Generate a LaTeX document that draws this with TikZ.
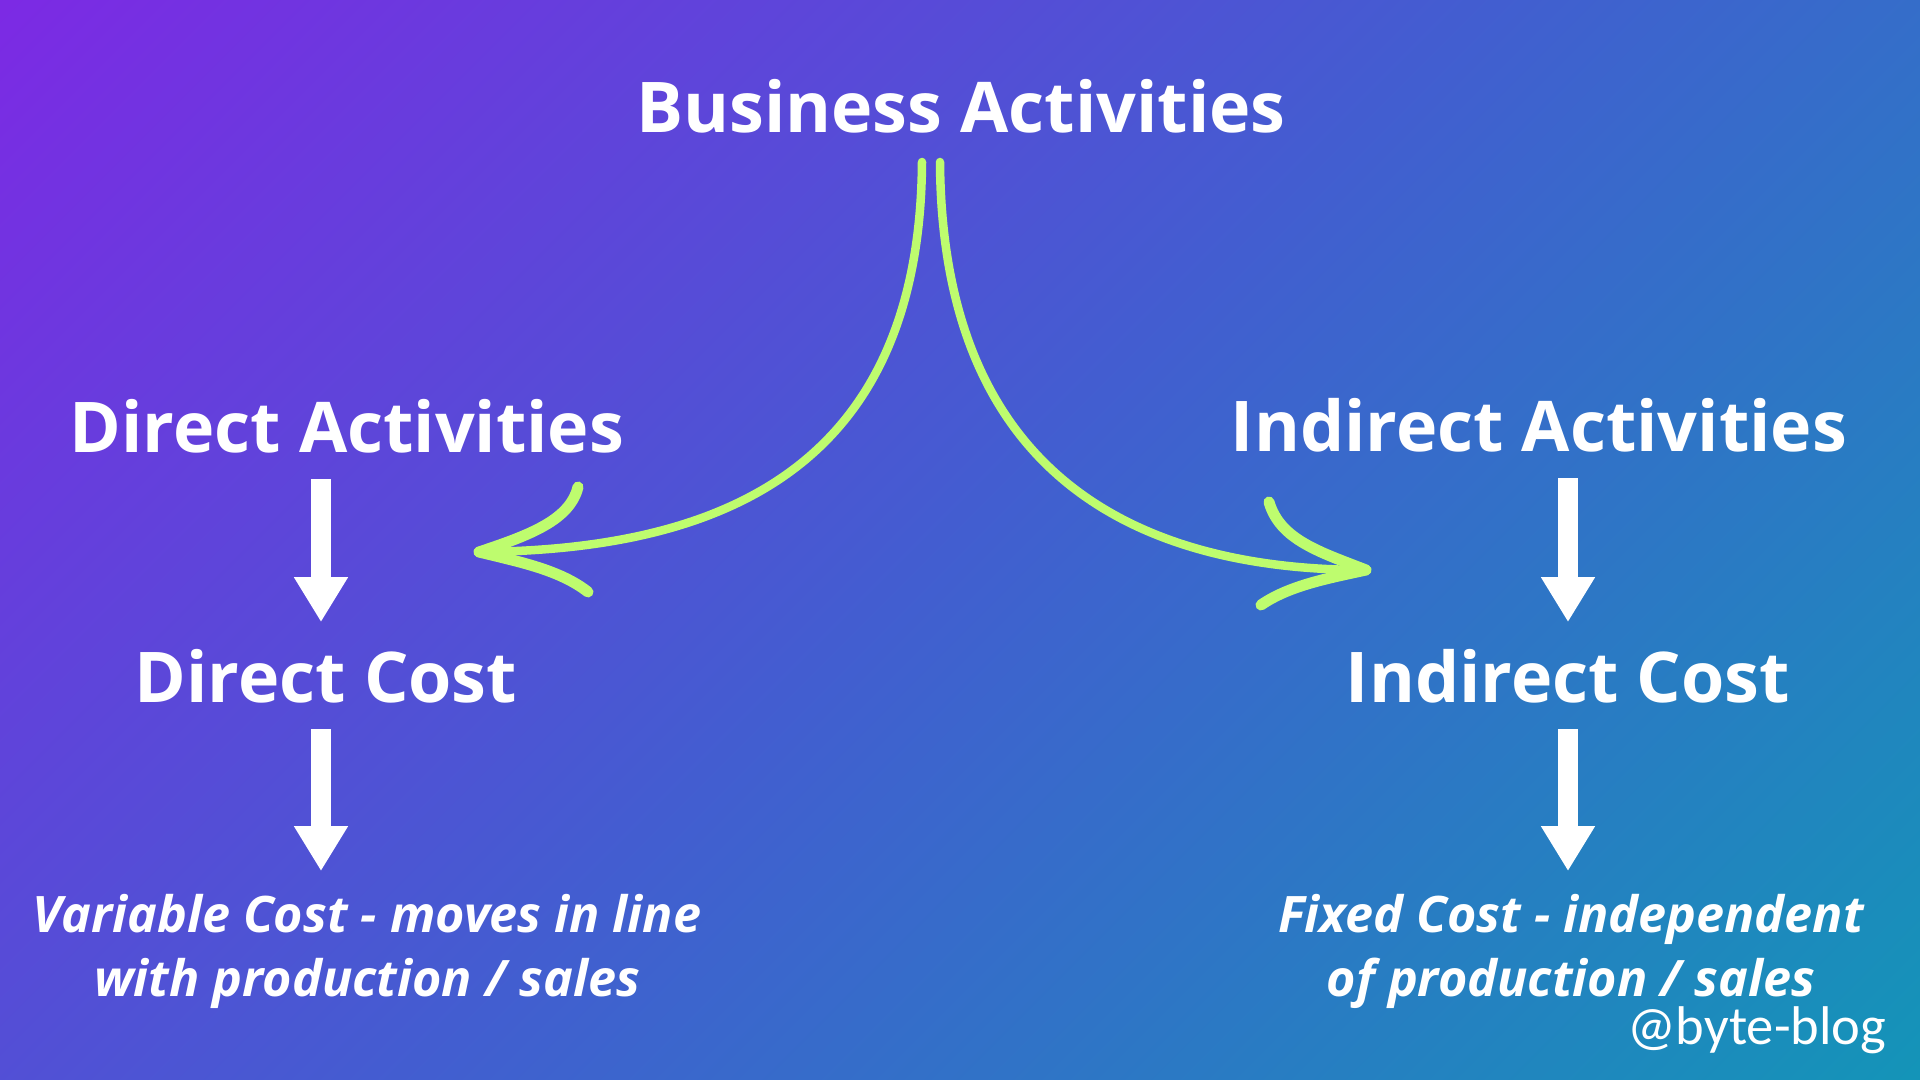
\documentclass[tikz,border=0pt]{standalone}
\usepackage{fontspec}
\setmainfont{Open Sans}
\newfontfamily\tagfont{Carlito}
\usetikzlibrary{arrows.meta}

\definecolor{bgpurple}{RGB}{124,42,228}
\definecolor{bgmid}{RGB}{66,94,208}
\definecolor{bgteal}{RGB}{20,148,184}
\definecolor{lime}{RGB}{190,252,110}

% ramp stretched over the whole diagonal
\pgfdeclareverticalshading{bgshade}{100bp}{color(0bp)=(bgteal); color(14.64bp)=(bgteal); color(50bp)=(bgmid); color(85.36bp)=(bgpurple); color(100bp)=(bgpurple)}

\tikzset{
  head/.style={text=white, inner sep=0pt, anchor=base, font=\fontsize{19.9}{24}\selectfont\bfseries},
  costnote/.style={text=white, inner sep=0pt, anchor=base, align=center, font=\fontsize{14.3}{18.2}\selectfont\bfseries\itshape},
  blockarrow/.style={white, line width=0.2cm, -{Triangle[width=0.51cm, length=0.45cm]}},
  brush/.style={lime, line width=0.085cm, line cap=round}
}

\begin{document}
\begin{tikzpicture}[x=0.01cm, y=-0.01cm]
\shade[shading=bgshade, shading angle=45] (0,0) rectangle (1920,1080);

\node[head] (biz) at (961,133) {Business Activities};
\node[head] (dact) at (347,453) {Direct Activities};
\node[head] (iact) at (1539,452) {Indirect Activities};
\node[head] (dcost) at (326,703) {Direct Cost};
\node[head] (icost) at (1568,703) {Indirect Cost};

% base of a two line node is its last line
\node[costnote] (var) at (367,997) {Variable Cost - moves in line\\with production / sales};
\node[costnote] (fix) at (1571,997) {Fixed Cost - independent\\of production / sales};
\node[text=white, inner sep=0pt, anchor=base east, font=\tagfont\fontsize{15.5}{18}\selectfont] (tag) at (1887,1045) {@byte-blog};

% white arrows
\draw[blockarrow, shorten <=0.25cm, shorten >=0.27cm] ([xshift=-0.05cm]dcost.north |- dact.south) -- ([xshift=-0.05cm]dcost.north);
\draw[blockarrow, shorten <=0.25cm, shorten >=0.23cm] ([xshift=-0.05cm]dcost.south) -- ([xshift=-0.05cm]dcost.south |- var.north);
\draw[blockarrow, shorten <=0.25cm, shorten >=0.27cm] (icost.north |- iact.south) -- (icost.north);
\draw[blockarrow, shorten <=0.25cm, shorten >=0.23cm] (icost.south) -- (icost.south |- fix.north);

% green hand drawn arrows
\coordinate (lroot) at (922,162);
\coordinate (rroot) at (940,162);
\coordinate (ltip) at (479,552);
\coordinate (rtip) at (1366,570);

\draw[brush] (lroot) .. controls (920,470) and (720,550) .. (ltip);
\draw[brush, line width=0.11cm] (578,487) .. controls (570,520) and (530,535) .. (ltip);
\draw[brush, line width=0.11cm] (588,592) .. controls (560,570) and (520,562) .. (ltip);

\draw[brush] (rroot) .. controls (942,470) and (1130,570) .. (rtip);
\draw[brush, line width=0.11cm] (1269,502) .. controls (1280,540) and (1320,552) .. (rtip);
\draw[brush, line width=0.11cm] (1261,605) .. controls (1290,585) and (1330,578) .. (rtip);
\end{tikzpicture}
\end{document}
